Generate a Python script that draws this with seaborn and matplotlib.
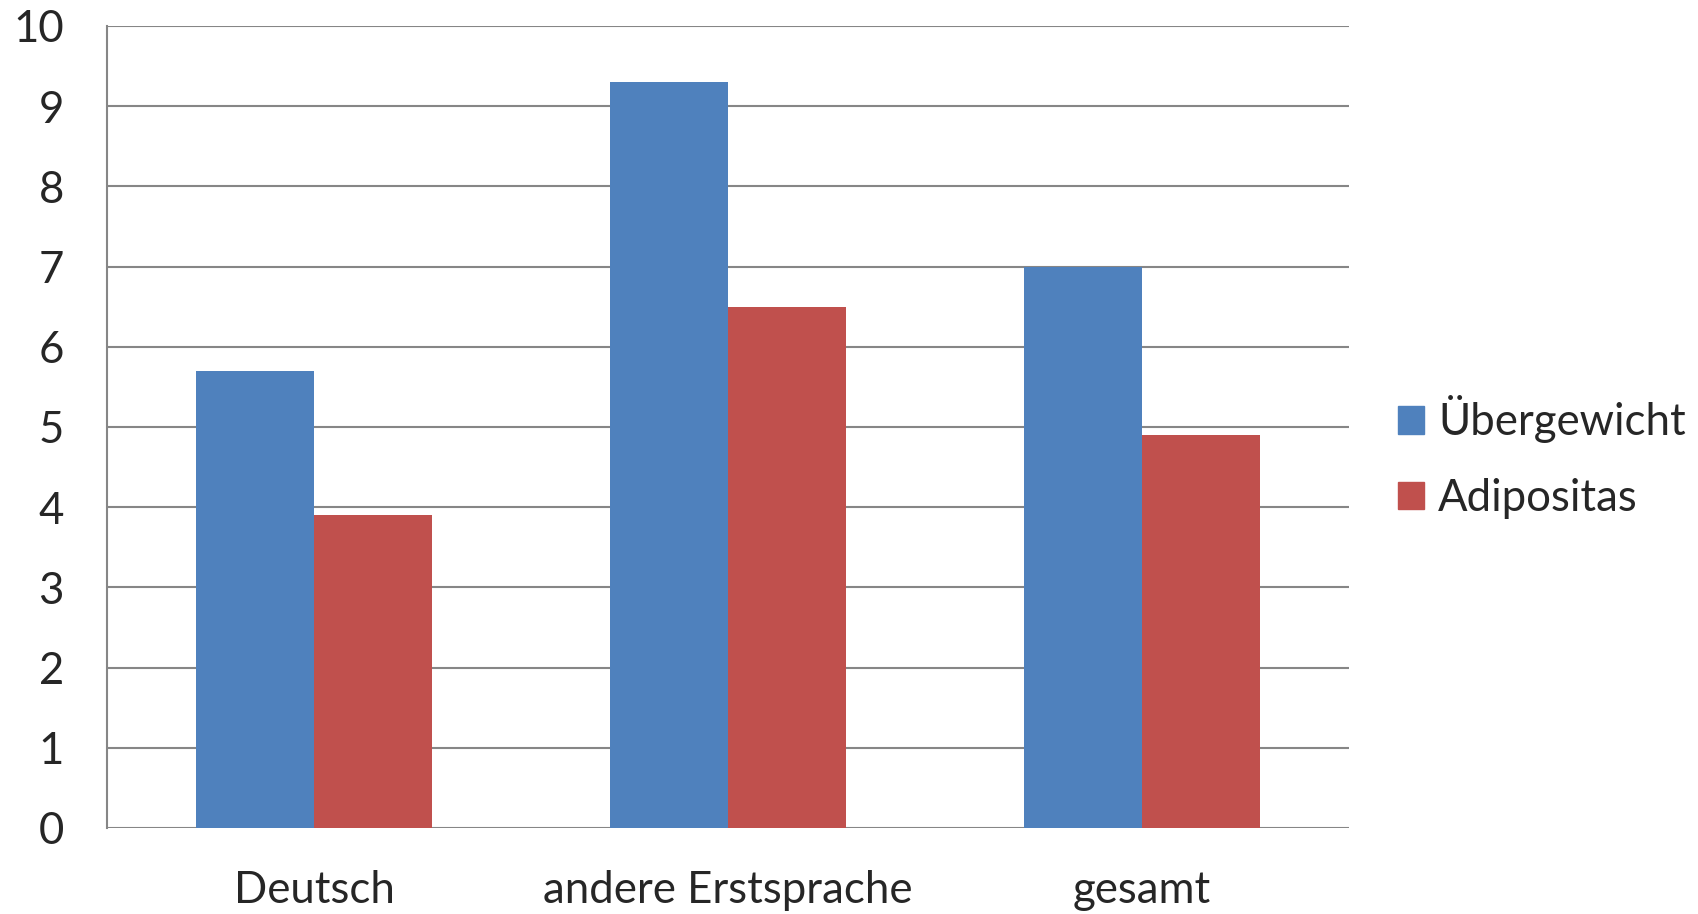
import seaborn as sns
import matplotlib.pyplot as plt
import pandas as pd
from matplotlib.patches import Patch

# data
categories = ["Deutsch", "andere Erstsprache", "gesamt"]
uebergewicht = [5.7, 9.3, 7.0]
adipositas = [3.9, 6.5, 4.9]
series_names = ["Übergewicht", "Adipositas"]
colors = ["#4F81BD", "#C0504D"]

df = pd.DataFrame({
    "Kategorie": categories * 2,
    "Serie": [series_names[0]] * 3 + [series_names[1]] * 3,
    "Wert": uebergewicht + adipositas,
})

sns.set_style("white")
plt.rcParams["font.family"] = ["Lato", "DejaVu Sans"]
fs = 31.5

fig = plt.figure(figsize=(16.99, 9.14), dpi=100)
ax = fig.add_axes([0.063, 0.0941, 0.731, 0.8775])

sns.barplot(data=df, x="Kategorie", y="Wert", hue="Serie",
            palette=colors, width=0.571, linewidth=0, saturation=1,
            ax=ax, legend=False)

grid_c = "#868686"
ax.set_xlim(-0.5, 2.5)
ax.set_ylim(0, 10)
ax.set_yticks(range(0, 11))
ax.yaxis.grid(True, color=grid_c, linewidth=1.5)
ax.set_axisbelow(True)
for s in ["top", "right", "bottom"]:
    ax.spines[s].set_visible(False)
ax.spines["left"].set_color(grid_c)
ax.spines["left"].set_linewidth(1.5)

# x ticks at the boundaries, labels in the middle
ax.set_xticks([-0.5, 0.5, 1.5, 2.5])
ax.set_xticklabels([])
ax.set_xticks([0, 1, 2], minor=True)
ax.set_xticklabels(categories, minor=True)
ax.tick_params(axis="x", which="major", length=11, width=1.5, color=grid_c, direction="out")
ax.tick_params(axis="x", which="minor", length=0, pad=30, labelsize=fs)
ax.tick_params(axis="y", length=11, width=1.5, color=grid_c, pad=20, labelsize=fs)
ax.set_xlabel("")
ax.set_ylabel("")

handles = [Patch(color=c, label=n) for c, n in zip(colors, series_names)]
fig.legend(handles=handles, loc="center left", bbox_to_anchor=(0.823, 0.5),
           frameon=False, fontsize=fs, handlelength=0.58, handleheight=0.58,
           handletextpad=0.33, labelspacing=0.78, borderpad=0, borderaxespad=0)

fig.savefig("out.png", dpi=100)
